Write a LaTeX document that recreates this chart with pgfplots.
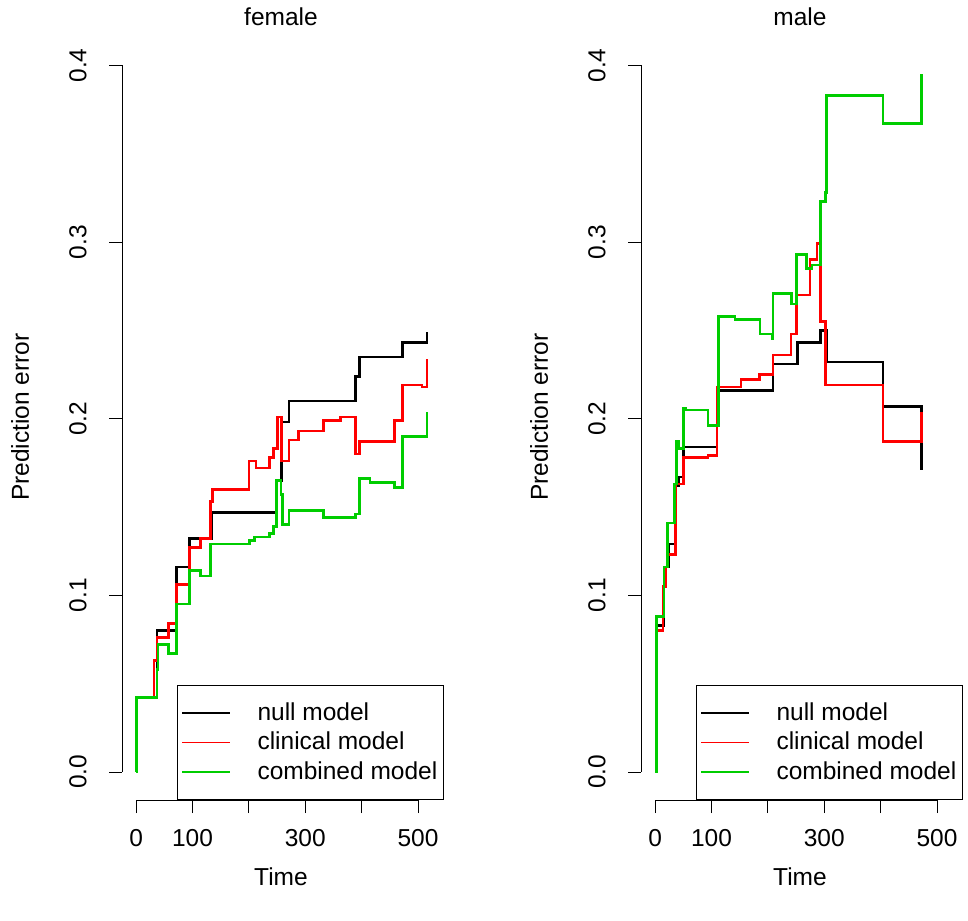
\documentclass[border=0pt]{standalone}
\usepackage{pgfplots}
\pgfplotsset{compat=1.18}
\usepackage{fontspec}
\setmainfont{Liberation Sans}
\definecolor{rgreen}{RGB}{0,205,0}
\definecolor{rred}{RGB}{255,0,0}
\pgfplotsset{
  every axis plot/.append style={const plot, line width=2.6pt, no marks},
  legend image code/.code={\draw[#1, draw=., line width=1.6pt] (8pt,0pt) -- (56pt,0pt); \path (80pt,0pt);},
}
\begin{document}
\fontsize{24.5}{29}\selectfont
\begin{tikzpicture}
\path (0pt,0pt) rectangle (968pt,915pt);
\pgfplotsset{
  myax/.style={
    scale only axis, width=318pt, height=763pt,
    xmin=-25, xmax=539, ymin=-0.016, ymax=0.416,
    axis line style={draw=none}, clip=false,
    xtick pos=bottom, ytick pos=left,
    tick align=outside, major tick length=13pt,
    tick style={black, line width=0.8pt},
    xtick={0,100,200,300,400,500}, xticklabels={0,100,,300,,500},
    ytick={0,0.1,0.2,0.3,0.4}, yticklabels={0.0,0.1,0.2,0.3,0.4},
    xticklabel style={anchor=north}, xticklabel shift=8pt,
    yticklabel style={rotate=90, anchor=south}, yticklabel shift=14pt,
    /pgf/number format/assume math mode=true,
    ticklabel style={font=\fontsize{24.5}{29}\selectfont},
    legend style={draw=black, line width=0.8pt, at={(0.173,0)}, anchor=south west,
      font=\fontsize{24.5}{29}\selectfont, inner xsep=4pt, inner ysep=16pt, row sep=6pt,
      nodes={inner ysep=1pt}},
    legend cell align=left,
  }
}
\begin{axis}[myax, at={(122pt,120pt)}, anchor=south west]
\draw[black, line width=0.8pt] (axis cs:0,-0.016) -- (axis cs:500,-0.016);
\draw[black, line width=0.8pt] (axis cs:-25,0) -- (axis cs:-25,0.4);
\addplot[black] coordinates {(0,0) (1,0.0425) (37,0.080) (72,0.116) (95,0.132) (134,0.147) (249,0.165) (258,0.198) (271,0.210) (389,0.224) (396,0.235) (473,0.243) (516,0.249)};
\addlegendentry{null model}
\addplot[rred] coordinates {(0,0) (1,0.042) (32,0.063) (37,0.076) (58,0.084) (72,0.106) (95,0.127) (114,0.132) (132,0.153) (135,0.160) (200,0.176) (213,0.172) (237,0.178) (244,0.183) (251,0.201) (258,0.176) (271,0.188) (288,0.193) (332,0.199) (362,0.201) (389,0.180) (396,0.187) (458,0.199) (472,0.219) (507,0.218) (516,0.234)};
\addlegendentry{clinical model}
\addplot[rgreen] coordinates {(0,0) (1,0.042) (37,0.058) (39,0.072) (58,0.067) (72,0.095) (95,0.114) (114,0.111) (132,0.129) (201,0.131) (210,0.133) (237,0.135) (244,0.139) (249,0.165) (257,0.157) (260,0.140) (271,0.148) (332,0.144) (362,0.144) (389,0.146) (396,0.166) (415,0.164) (458,0.161) (472,0.190) (516,0.190) (516,0.204)};
\addlegendentry{combined model}
\end{axis}
\begin{axis}[myax, at={(641pt,120pt)}, anchor=south west]
\draw[black, line width=0.8pt] (axis cs:0,-0.016) -- (axis cs:500,-0.016);
\draw[black, line width=0.8pt] (axis cs:-25,0) -- (axis cs:-25,0.4);
\addplot[black] coordinates {(0,0) (2,0.083) (16,0.116) (24,0.129) (35,0.162) (41,0.167) (50,0.184) (110,0.216) (209,0.231) (253,0.243) (293,0.250) (305,0.232) (404,0.207) (472,0.207) (472,0.171)};
\addlegendentry{null model}
\addplot[rred] coordinates {(0,0) (3,0.080) (14,0.105) (18,0.116) (22,0.123) (36,0.163) (50,0.178) (94,0.179) (110,0.218) (152,0.222) (185,0.225) (209,0.236) (241,0.248) (251,0.270) (275,0.290) (287,0.299) (293,0.255) (302,0.219) (404,0.187) (472,0.187) (472,0.204)};
\addlegendentry{clinical model}
\addplot[rgreen] coordinates {(0,0) (2,0.088) (16,0.116) (22,0.141) (34,0.163) (38,0.187) (41,0.183) (50,0.206) (55,0.205) (94,0.196) (112,0.258) (142,0.256) (186,0.248) (207,0.245) (209,0.271) (242,0.265) (251,0.293) (269,0.285) (278,0.287) (293,0.323) (302,0.328) (304,0.383) (404,0.367) (472,0.367) (472,0.395)};
\addlegendentry{combined model}
\end{axis}
\node at (281pt,903pt) {female};
\node at (800pt,903pt) {male};
\node at (281pt,43pt) {Time};
\node at (800pt,43pt) {Time};
\node[rotate=90] at (20pt,503pt) {Prediction error};
\node[rotate=90] at (539pt,503pt) {Prediction error};
\end{tikzpicture}
\end{document}
